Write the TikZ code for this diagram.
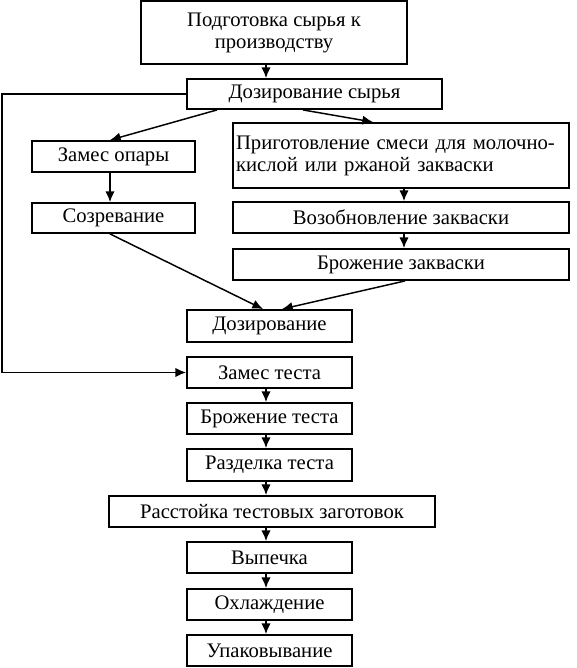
\documentclass[tikz,border=0pt]{standalone}
\usepackage{fontspec}
\setmainfont{Liberation Serif}
\usetikzlibrary{arrows.meta}
\begin{document}
\begin{tikzpicture}[x=0.75pt,y=-0.75pt,
  box/.style 2 args={draw, line width=1.4pt, inner sep=0pt, font=\fontsize{15.5}{16.5}\selectfont, align=center,
    minimum width=0.75pt*#1, minimum height=0.75pt*#2},
  arr/.style={line width=1.1pt, -{Latex[length=8pt,width=7pt]}}]
\useasboundingbox (0,0) rectangle (576,668);
\node[box={266}{63}] (b1) at (274,32.5) {Подготовка сырья к\\производству};
\node[box={255}{30}] (b2) at (314.5,94) {Дозирование сырья};
\node[box={163}{31}] (b3) at (113.5,156.5) {Замес опары};
\node[box={336}{65}, text width=247.5pt, align=left] (b4) at (401,155.5)
  {\makebox[\linewidth][s]{Приготовление смеси для молочно-}\\кислой или ржаной закваски};
\node[box={163}{30}] (b5) at (113.5,218) {Созревание};
\node[box={336}{31}] (b6) at (401,217.5) {Возобновление закваски};
\node[box={336}{31}] (b7) at (401,264.5) {Брожение закваски};
\node[box={165}{32}] (b8) at (269.5,326) {Дозирование};
\node[box={165}{31}] (b9) at (269.5,372.5) {Замес теста};
\node[box={165}{31}] (b10) at (269.5,418.5) {Брожение теста};
\node[box={165}{32}] (b11) at (269.5,465) {Разделка теста};
\node[box={326}{31}] (b12) at (272,511.5) {Расстойка тестовых заготовок};
\node[box={165}{31}] (b13) at (269.5,557.5) {Выпечка};
\node[box={165}{31}] (b14) at (269.5,604.5) {Охлаждение};
\node[box={165}{31}] (b15) at (269.5,650.5) {Упаковывание};
% vertical main axis
\draw[arr] (b1.south -| 266,0) -- (b2.north -| 266,0);
\draw[arr] (b9.south -| 266,0) -- (b10.north -| 266,0);
\draw[arr] (b10.south -| 266,0) -- (b11.north -| 266,0);
\draw[arr] (b11.south -| 266,0) -- (b12.north -| 266,0);
\draw[arr] (b12.south -| 266,0) -- (b13.north -| 266,0);
\draw[arr] (b13.south -| 266,0) -- (b14.north -| 266,0);
\draw[arr] (b14.south -| 266,0) -- (b15.north -| 266,0);
% side branches
\draw[arr] (b3.south -| 110,0) -- (b5.north -| 110,0);
\draw[arr] (b4.south -| 404,0) -- (b6.north -| 404,0);
\draw[arr] (b6.south -| 404,0) -- (b7.north -| 404,0);
% diagonals
\draw[arr] (b2.south -| 217,0) -- (b3.north -| 110,0);
\draw[arr] (b2.south -| 303,0) -- (b4.north -| 373,0);
\draw[arr] (b5.south -| 110,0) -- (b8.north -| 263,0);
\draw[arr] (b7.south -| 405,0) -- (b8.north -| 282,0);
% left bypass
\coordinate (c1) at (2,94);
\coordinate (c2) at (2,372.5);
\draw[arr] (b2.west) -- (c1) -- (c2) -- (b9.west);
\end{tikzpicture}
\end{document}
